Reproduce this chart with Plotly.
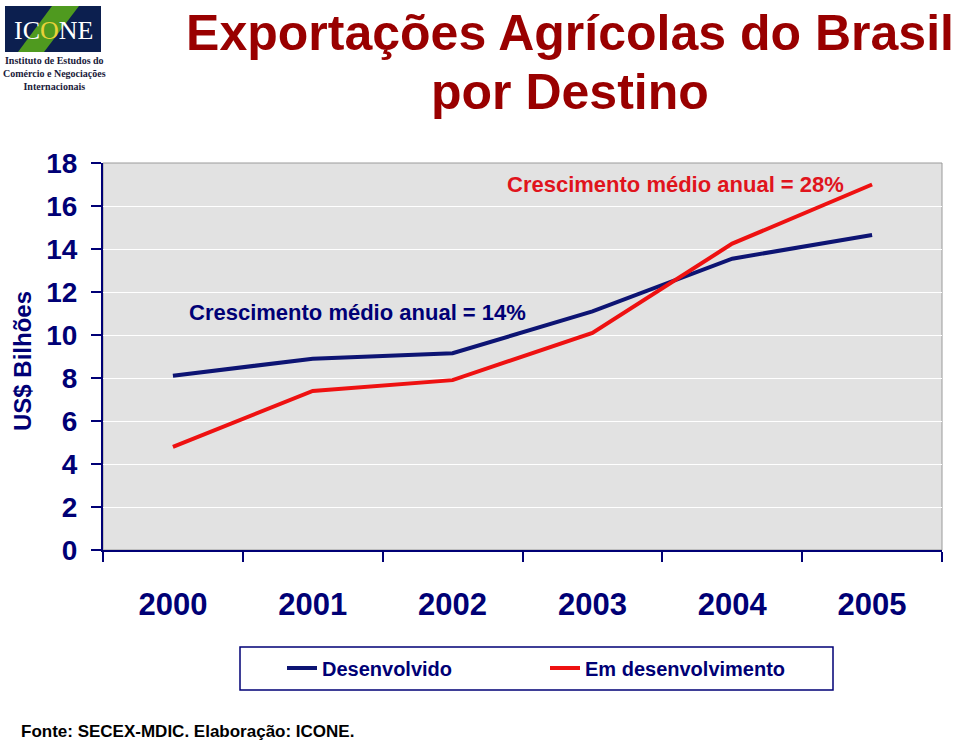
import plotly.graph_objects as go

years = ["2000", "2001", "2002", "2003", "2004", "2005"]
desenvolvido = [8.1, 8.9, 9.15, 11.1, 13.55, 14.65]
em_desenvolvimento = [4.8, 7.4, 7.9, 10.1, 14.25, 17.0]
y_ticks = [0, 2, 4, 6, 8, 10, 12, 14, 16, 18]

W, H = 960, 741
L, R, T, B = 103, 942, 163, 550
NAVY = "#000075"
RED = "#ee1111"
DARKRED = "#990000"
SANS = "Liberation Sans, Arial, sans-serif"
SERIF = "Liberation Serif, Times New Roman, serif"


def px(x):
    return (x - L) / (R - L)


def py(y):
    return (B - y) / (B - T)


fig = go.Figure()
fig.add_trace(go.Scatter(x=years, y=desenvolvido, mode="lines", name="<b>Desenvolvido</b>",
                         line=dict(color="#0d1473", width=4)))
fig.add_trace(go.Scatter(x=years, y=em_desenvolvimento, mode="lines", name="<b>Em desenvolvimento</b>",
                         line=dict(color=RED, width=4)))

shapes = [
    dict(type="rect", xref="paper", yref="paper", x0=0, x1=1, y0=0, y1=1,
         line=dict(color="#9a9a9a", width=1), layer="below"),
    dict(type="rect", xref="paper", yref="paper", x0=px(240), x1=px(833), y0=py(647), y1=py(690),
         line=dict(color=NAVY, width=1.5), fillcolor="white"),
    dict(type="rect", xref="paper", yref="paper", x0=px(5), x1=px(101), y0=py(6), y1=py(52),
         line=dict(width=0), fillcolor="#0c1f4f"),
    dict(type="path", xref="paper", yref="paper",
         path=f"M {px(18)},{py(52)} L {px(44)},{py(52)} L {px(79)},{py(6)} L {px(52)},{py(6)} Z",
         line=dict(width=0), fillcolor="#4f9a1f"),
]

annotations = [
    dict(text="<b>por Destino</b>", xref="paper", yref="paper", x=px(570), y=py(92),
         xanchor="center", yanchor="middle", showarrow=False,
         font=dict(family=SANS, size=50, color=DARKRED)),
    dict(text="<b>Crescimento médio anual = 14%</b>", xref="paper", yref="paper",
         x=px(187), y=py(312), xanchor="left", yanchor="middle", showarrow=False,
         font=dict(family=SANS, size=22, color=NAVY)),
    dict(text="<b>Crescimento médio anual = 28%</b>", xref="paper", yref="paper",
         x=px(505), y=py(185), xanchor="left", yanchor="middle", showarrow=False,
         font=dict(family=SANS, size=22, color="#e0141c")),
    dict(text="<b>US$ Bilhões</b>", xref="paper", yref="paper", x=px(22), y=py(361),
         xanchor="center", yanchor="middle", textangle=-90, showarrow=False,
         font=dict(family=SANS, size=24, color=NAVY)),
    dict(text="<b>Fonte: SECEX-MDIC. Elaboração: ICONE.</b>", xref="paper", yref="paper",
         x=px(19), y=py(731), xanchor="left", yanchor="middle", showarrow=False,
         font=dict(family=SANS, size=17, color="black")),
    dict(text="IC<span style='color:#e8d23a'>O</span>NE", xref="paper", yref="paper",
         x=px(53), y=py(30), xanchor="center", yanchor="middle", showarrow=False,
         font=dict(family=SERIF, size=26, color="white")),
    dict(text="<b>Instituto de Estudos do<br>Comércio e Negociações<br>Internacionais</b>", xref="paper",
         yref="paper", x=px(54), y=py(73), xanchor="center", yanchor="middle", showarrow=False,
         align="center", font=dict(family=SERIF, size=10, color="#1a1a3a")),
]

fig.update_layout(
    width=W, height=H,
    margin=dict(l=L, r=W - R, t=T, b=H - B, pad=0),
    paper_bgcolor="white",
    plot_bgcolor="#e2e2e2",
    title=dict(text="<b>Exportações Agrícolas do Brasil</b>",
               x=570 / W, xanchor="center", y=1 - 32 / H, yanchor="middle",
               font=dict(family=SANS, size=50, color=DARKRED)),
    showlegend=True,
    legend=dict(orientation="h", x=px(282), y=py(668), xanchor="left", yanchor="middle",
                bgcolor="rgba(0,0,0,0)", font=dict(family=SANS, size=20, color=NAVY),
                entrywidth=218, itemwidth=30),
    xaxis=dict(type="category", range=[-0.5, 5.5], showgrid=False, tickson="boundaries",
               ticks="outside", ticklen=10, tickwidth=1.5, tickcolor=NAVY,
               showline=True, linecolor=NAVY, linewidth=2,
               tickfont=dict(family=SANS, size=31, color=NAVY, weight="bold"),
               ticklabelstandoff=26),
    yaxis=dict(range=[0, 18], tickvals=y_ticks, showgrid=True, gridcolor="white", gridwidth=1.2,
               ticks="outside", ticklen=10, tickwidth=1.5, tickcolor=NAVY,
               showline=True, linecolor=NAVY, linewidth=2, zeroline=False,
               tickfont=dict(family=SANS, size=28, color=NAVY, weight="bold"),
               ticklabelstandoff=8),
    shapes=shapes,
    annotations=annotations,
)

fig.write_html("out.html", config={"displayModeBar": False},
               post_script="document.body.style.margin='0';")
